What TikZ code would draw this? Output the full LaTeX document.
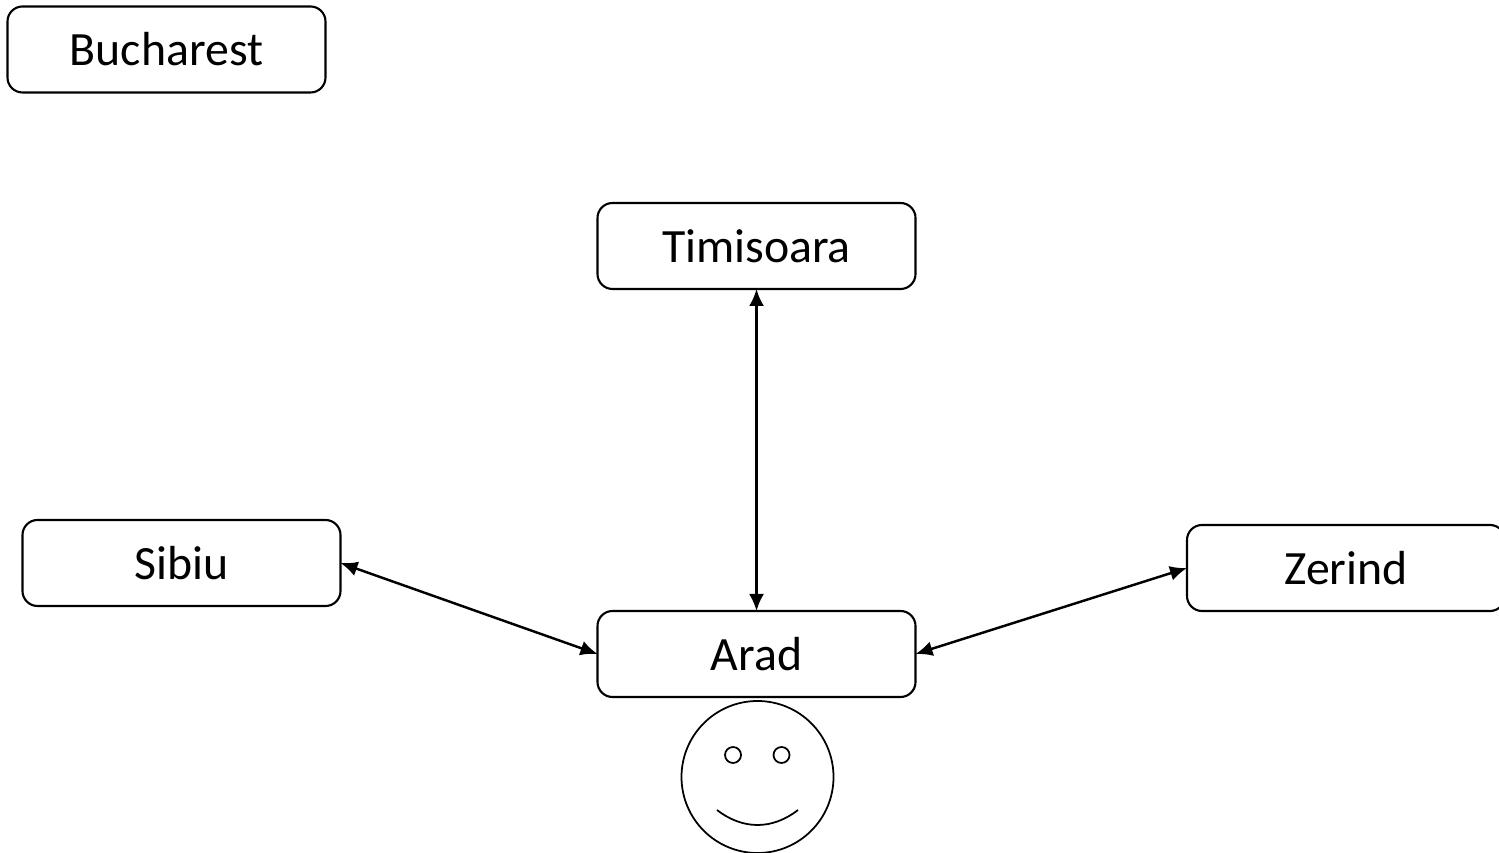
\documentclass[tikz,border=0pt]{standalone}
\usepackage{fontspec}
\setmainfont{Carlito}
\usetikzlibrary{arrows.meta}
\tikzset{
	city/.style={draw,line width=.6pt,rounded corners=.15cm,minimum width=3.18cm,minimum height=.86cm,inner sep=0pt,outer sep=0pt,font=\fontsize{13.6}{16}\selectfont},
	road/.style={{Latex[length=.17cm,width=.15cm]}-{Latex[length=.17cm,width=.15cm]},line width=.7pt},
	face/.style={line width=.5pt}
}
\begin{document}
\begin{tikzpicture}
	\useasboundingbox (0,0) rectangle (14.99,8.52);
	\clip (0,0) rectangle (14.99,8.52);
	\node[city] (bucharest) at (1.665,8.025){Bucharest};
	\node[city] (timisoara) at (7.565,6.06){Timisoara};
	\node[city] (sibiu) at (1.815,2.89){Sibiu};
	\node[city] (zerind) at (13.46,2.84){Zerind};
	\node[city] (arad) at (7.565,1.98){Arad};
	\draw[road] (timisoara.south)--(arad.north);
	\draw[road] (sibiu.east)--(arad.west);
	\draw[road] (zerind.west)--(arad.east);
	\draw[face] (7.575,.75) circle (.76);
	\draw[face] (7.33,.97) circle (.08);
	\draw[face] (7.815,.97) circle (.08);
	\draw[face] (7.17,.42) .. controls (7.43,.22) and (7.72,.22) .. (7.98,.42);
\end{tikzpicture}
\end{document}
